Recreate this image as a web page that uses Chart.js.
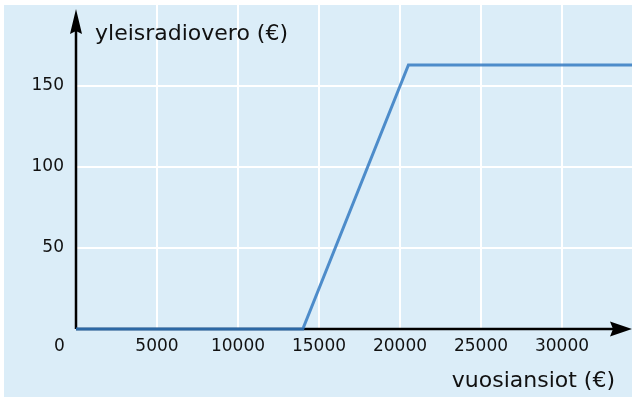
<!DOCTYPE html>
<html lang="fi">
<head>
    <meta charset="UTF-8">
    <title>Yleisradiovero</title>
    <script src="https://cdn.jsdelivr.net/npm/chart.js@4.4.1/dist/chart.umd.min.js"></script>
    <style>
        html, body { margin: 0; padding: 0; background: #fff; }
        canvas { display: block; }
    </style>
</head>
<body>
    <canvas id="chart" width="632" height="402"></canvas>

    <script>
        // vuosiansiot (€) -> yleisradiovero (€)
        let incomes = [0, 14000, 20520, 34500];
        let taxes = [0, 0, 163, 163];
        let xTicks = [5000, 10000, 15000, 20000, 25000, 30000];
        let yTicks = [50, 100, 150];

        let xTitle = "vuosiansiot (€)";
        let yTitle = "yleisradiovero (€)";

        const bg = "#dbedf8";
        const font = "'DejaVu Sans', Verdana, sans-serif";

        let axesPlugin = {
            id: "axesPlugin",
            beforeDraw(chart) {
                let ctx = chart.ctx;
                ctx.save();
                ctx.fillStyle = bg;
                ctx.fillRect(4, 5, chart.width - 4, chart.height - 10);
                ctx.restore();
            },
            beforeDatasetsDraw(chart) {
                let ctx = chart.ctx;
                let a = chart.chartArea;
                let x0 = chart.scales.x.getPixelForValue(0);
                let y0 = chart.scales.y.getPixelForValue(0);
                ctx.save();
                ctx.strokeStyle = "#000";
                ctx.fillStyle = "#000";
                ctx.lineWidth = 2.5;
                ctx.beginPath();
                ctx.moveTo(x0, y0);
                ctx.lineTo(x0, a.top + 20);
                ctx.moveTo(x0, y0);
                ctx.lineTo(a.right - 15, y0);
                ctx.stroke();
                // arrow heads
                ctx.beginPath();
                ctx.moveTo(x0, a.top + 4);
                ctx.lineTo(x0 + 6, a.top + 29);
                ctx.lineTo(x0, a.top + 26);
                ctx.lineTo(x0 - 6, a.top + 29);
                ctx.closePath();
                ctx.fill();
                ctx.beginPath();
                ctx.moveTo(a.right, y0);
                ctx.lineTo(a.right - 22, y0 - 7.5);
                ctx.lineTo(a.right - 19, y0);
                ctx.lineTo(a.right - 22, y0 + 7.5);
                ctx.closePath();
                ctx.fill();
                ctx.restore();
            },
            afterDraw(chart) {
                let ctx = chart.ctx;
                let a = chart.chartArea;
                let x0 = chart.scales.x.getPixelForValue(0);
                let y0 = chart.scales.y.getPixelForValue(0);
                ctx.save();
                ctx.fillStyle = "#111";
                ctx.font = "17px " + font;
                ctx.textAlign = "center";
                ctx.textBaseline = "middle";
                ctx.fillText("0", x0 - 16.5, y0 + 17.5);

                ctx.font = "22px " + font;
                ctx.textAlign = "left";
                ctx.textBaseline = "alphabetic";
                ctx.fillText(yTitle, x0 + 19, a.top + 35);
                ctx.textAlign = "right";
                ctx.fillText(xTitle, a.right - 17, y0 + 58);
                ctx.restore();
            }
        };

        new Chart(document.getElementById("chart"), {
            type: "scatter",
            data: {
                datasets: [{
                    data: incomes.map((v, i) => ({ x: v, y: taxes[i] })),
                    showLine: true,
                    borderColor: "rgba(52,122,194,0.85)",
                    borderWidth: 3,
                    pointRadius: 0,
                    tension: 0,
                    clip: 4
                }]
            },
            options: {
                responsive: false,
                animation: false,
                events: [],
                layout: { padding: { top: 5, right: 0, left: 0, bottom: 0 } },
                plugins: {
                    legend: { display: false },
                    tooltip: { enabled: false }
                },
                scales: {
                    x: {
                        type: "linear",
                        min: 0,
                        max: 34320,
                        afterBuildTicks(scale) { scale.ticks = xTicks.map(v => ({ value: v })); },
                        afterFit(scale) {
                            scale.height = 73;
                            scale.paddingLeft = 0;
                            scale.paddingRight = 0;
                        },
                        border: { display: false },
                        grid: { color: "#ffffff", lineWidth: 2, drawTicks: false, tickLength: 0 },
                        ticks: {
                            padding: 7,
                            color: "#111",
                            font: { family: font, size: 17 },
                            maxRotation: 0,
                            autoSkip: false,
                            callback: v => String(v)
                        }
                    },
                    y: {
                        type: "linear",
                        min: 0,
                        max: 200,
                        afterBuildTicks(scale) { scale.ticks = yTicks.map(v => ({ value: v })); },
                        afterFit(scale) {
                            scale.width = 76;
                            scale.paddingTop = 0;
                            scale.paddingBottom = 0;
                        },
                        border: { display: false },
                        grid: { color: "#ffffff", lineWidth: 2, drawTicks: false, tickLength: 0 },
                        ticks: {
                            padding: 12,
                            color: "#111",
                            font: { family: font, size: 17 },
                            callback: v => String(v)
                        }
                    }
                }
            },
            plugins: [axesPlugin]
        });
    </script>
</body>
</html>
